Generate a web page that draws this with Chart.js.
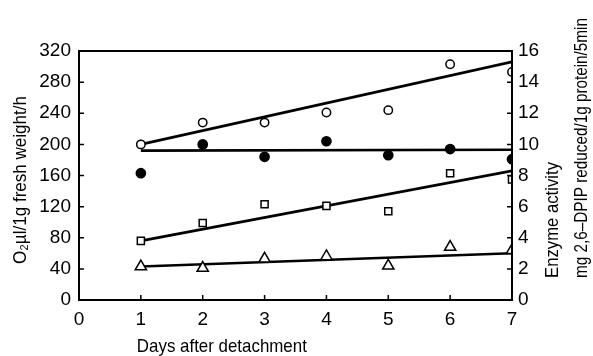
<!DOCTYPE html>
<html>
<head>
<meta charset="utf-8">
<script src="https://cdn.jsdelivr.net/npm/chart.js@4.4.0/dist/chart.umd.min.js"></script>
<style>
  html, body { margin: 0; padding: 0; background: #fff; }
</style>
</head>
<body>
<canvas id="chartContainer" width="593" height="356"></canvas>
<script>
// measured values, one per day after detachment
const days = [1, 2, 3, 4, 5, 6, 7];
const openCircles = [200, 228, 228, 241, 244, 303, 293];
const filledCircles = [163, 200, 184, 204, 186, 194, 181];
const squares = [76, 99, 123, 121, 114, 163, 155];
const triangles = [43, 41, 53, 56, 44, 68, 64];

// fitted lines, value at day 1 and day 7
const fitDays = [1, 7];
const openFit = [200, 306];
const filledFit = [192, 193];
const squareFit = [76, 166];
const triangleFit = [43, 60];

const leftTicks = [0, 40, 80, 120, 160, 200, 240, 280, 320];
const rightTicks = [0, 2, 4, 6, 8, 10, 12, 14, 16];
const dayTicks = [0, 1, 2, 3, 4, 5, 6, 7];

// pick whichever narrow face is actually installed
const probe = document.createElement("canvas").getContext("2d");
const faces = [
    { style: "normal", family: "'Liberation Sans Narrow'" },
    { style: "condensed", family: "'DejaVu Sans'" },
    { style: "normal", family: "'DejaVu Sans Condensed'" },
    { style: "normal", family: "'DejaVu Sans'" },
];
let best = faces[3], bestW = Infinity;
faces.forEach(f => {
    probe.font = f.style + " 20px " + f.family;
    const w = probe.measureText("320").width;
    if (w < bestW - 0.5) { bestW = w; best = f; }
});
const FONT = best.family + ", sans-serif";
const tickFont = {
    family: FONT,
    style: best.style,
    size: Math.min(20, Math.round(20 * 28 / bestW)),
};

const pts = (ys, xs) => ys.map((y, i) => ({ x: xs[i], y: y }));

function markers(data, style, fill, r) {
    return {
        type: "scatter",
        data: pts(data, days),
        pointStyle: style,
        pointRadius: r,
        pointBackgroundColor: fill,
        pointBorderColor: "#000",
        pointBorderWidth: 1.5,
        showLine: false,
        order: 1,
    };
}

function fitLine(data) {
    return {
        type: "line",
        data: pts(data, fitDays),
        borderColor: "#000",
        borderWidth: 2.6,
        pointRadius: 0,
        fill: false,
        order: 2,
    };
}

// frame, inward tick marks and the axis titles
const decorations = {
    id: "decorations",
    afterDraw(chart) {
        const ctx = chart.ctx;
        const a = chart.chartArea;
        const x = chart.scales.x, y = chart.scales.y, y2 = chart.scales.y2;
        ctx.save();
        ctx.strokeStyle = "#000";
        ctx.lineWidth = 2;
        ctx.strokeRect(a.left, a.top, a.right - a.left, a.bottom - a.top);
        ctx.lineWidth = 1.5;
        ctx.beginPath();
        leftTicks.forEach(v => {
            const p = y.getPixelForValue(v);
            ctx.moveTo(a.left, p); ctx.lineTo(a.left + 5, p);
        });
        rightTicks.forEach(v => {
            const p = y2.getPixelForValue(v);
            ctx.moveTo(a.right, p); ctx.lineTo(a.right - 5, p);
        });
        dayTicks.forEach(v => {
            const p = x.getPixelForValue(v);
            ctx.moveTo(p, a.bottom); ctx.lineTo(p, a.bottom - 5);
        });
        ctx.stroke();

        ctx.fillStyle = "#000";
        ctx.font = best.style + " 19px " + FONT;
        ctx.textBaseline = "middle";
        ctx.textAlign = "left";
        ctx.fillText("Days after detachment", x.getPixelForValue(1) - 4, 347, 170);

        ctx.save();
        ctx.translate(21, 180);
        ctx.rotate(-Math.PI / 2);
        ctx.textAlign = "center";
        ctx.fillText("O\u2082\u00b5l/1g fresh weight/h", 0, 0, 168);
        ctx.restore();

        ctx.save();
        ctx.translate(553, 278);
        ctx.rotate(-Math.PI / 2);
        ctx.fillText("Enzyme activity", 0, 0, 116);
        ctx.restore();

        ctx.save();
        ctx.translate(582, 278);
        ctx.rotate(-Math.PI / 2);
        ctx.fillText("mg 2,6\u2013DPIP reduced/1g protein/5min", 0, 0, 260);
        ctx.restore();
        ctx.restore();
    },
};

const ctx = document.getElementById("chartContainer");
const chart = new Chart(ctx, {
    data: {
        datasets: [
            markers(openCircles, "circle", "#fff", 4.2),
            markers(filledCircles, "circle", "#000", 4.6),
            markers(squares, "rect", "#fff", 5),
            markers(triangles, "triangle", "#fff", 6.5),
            fitLine(openFit),
            fitLine(filledFit),
            fitLine(squareFit),
            fitLine(triangleFit),
        ],
    },
    options: {
        responsive: false,
        animation: false,
        layout: { padding: { top: 51, left: 0, right: 0, bottom: 0 } },
        plugins: {
            legend: { display: false },
            tooltip: { enabled: false },
        },
        scales: {
            x: {
                type: "linear",
                min: 0,
                max: 7,
                afterFit: s => { s.height = 56; },
                grid: { display: false, drawTicks: false },
                border: { display: false },
                ticks: { stepSize: 1, padding: 8, color: "#000", font: tickFont },
            },
            y: {
                position: "left",
                min: 0,
                max: 320,
                afterFit: s => { s.width = 79; },
                grid: { display: false, drawTicks: false },
                border: { display: false },
                ticks: { stepSize: 40, padding: 8, color: "#000", font: tickFont },
            },
            y2: {
                position: "right",
                min: 0,
                max: 16,
                afterFit: s => { s.width = 81; },
                grid: { display: false, drawTicks: false },
                border: { display: false },
                ticks: { stepSize: 2, padding: 6, color: "#000", font: tickFont },
            },
        },
    },
    plugins: [decorations],
});
</script>
</body>
</html>
